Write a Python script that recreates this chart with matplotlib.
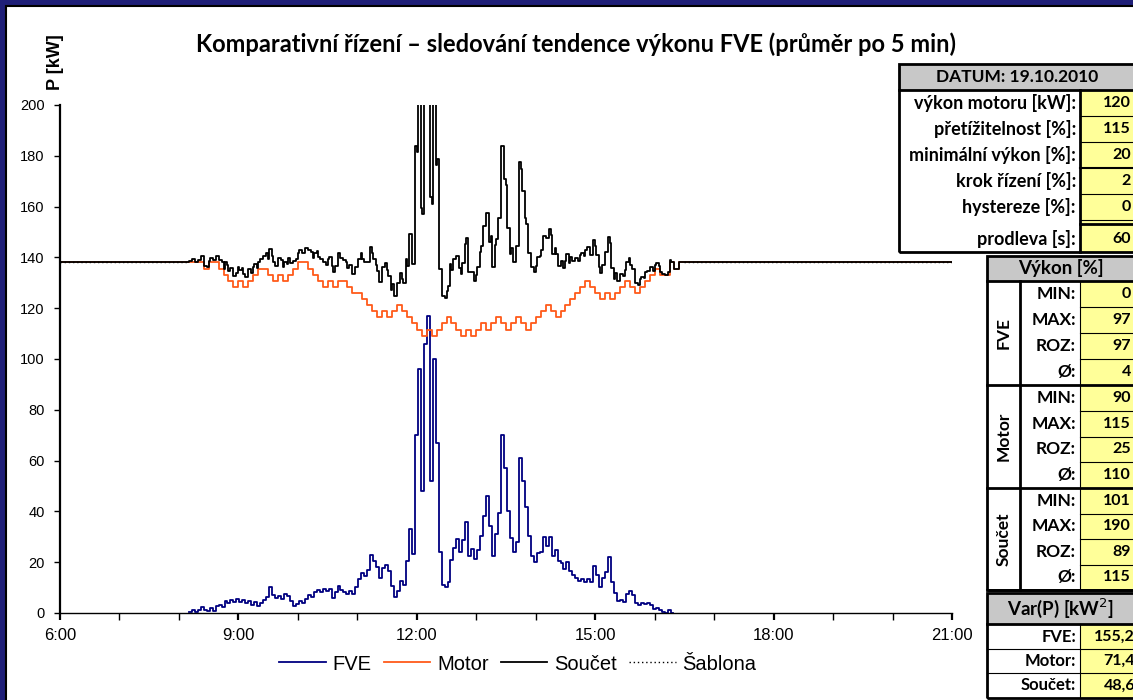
import numpy as np
import matplotlib.pyplot as plt
from matplotlib.patches import Rectangle
from matplotlib.lines import Line2D
from matplotlib.ticker import FixedLocator, FuncFormatter

# parametry regulace (tabulka vpravo)
datum = "19.10.2010"
vykon_motoru = 120      # kW
pretizitelnost = 115    # %
min_vykon = 20          # %
krok_rizeni = 2         # %
hystereze = 0           # %
prodleva = 60           # s

# FVE [kW], vzorky po 3 min od 8:10
fve_start = 490
fve_kw = [
    0.5, 1.2, 0.3, 1.0, 2.4, 1.2, 0.6, 1.8, 0.8, 2.6,
    3.2, 2.4, 4.8, 3.9, 5.2, 4.2, 5.4, 4.4, 5.2, 4.0,
    4.6, 3.2, 4.2, 2.6, 3.8, 5.0, 6.2, 10.2, 7.2, 5.8,
    6.6, 5.6, 7.4, 6.6, 4.6, 2.8, 3.6, 4.8, 3.8, 5.6,
    7.2, 6.4, 8.4, 9.2, 8.4, 9.6, 8.6, 9.4, 5.8, 8.2,
    10.8, 9.0, 8.2, 7.4, 8.8, 7.6, 10.2, 13.4, 15.8, 14.6,
    17.0, 22.8, 20.4, 18.2, 13.8, 17.6, 18.8, 16.4, 10.6, 6.2,
    8.6, 12.6, 11.2, 20.4, 33.0, 23.4, 70.0, 96.0, 48.0, 106.0,
    117.0, 52.0, 100.0, 67.0, 24.0, 11.0, 10.2, 12.4, 21.0, 25.4,
    29.0, 24.2, 28.6, 36.0, 22.6, 25.2, 21.4, 24.8, 30.4, 38.2,
    46.0, 34.4, 22.4, 31.0, 39.2, 70.0, 57.0, 40.0, 29.6, 24.2,
    28.0, 61.0, 52.0, 41.6, 30.2, 22.4, 20.2, 23.6, 24.2, 29.8,
    26.4, 30.0, 22.6, 25.0, 20.4, 19.8, 17.2, 20.0, 16.4, 15.0,
    13.8, 12.6, 13.4, 12.2, 13.2, 12.4, 18.4, 14.8, 10.2, 13.6,
    16.0, 22.0, 12.2, 8.0, 4.6, 5.2, 4.2, 7.4, 8.8, 7.2,
    4.0, 3.2, 4.0, 3.4, 3.8, 3.0, 1.6, 2.0, 1.2, 0.4,
    0.0, 1.0, 0.0,
]

# výkon motoru [% jmenovitého], průměr po 5 min od 8:10
motor_start = 490
motor_pct = [
    115, 115, 115, 113, 115, 115, 113, 111, 109, 107,
    109, 107, 109, 111, 113, 113, 111, 109, 111, 109,
    111, 113, 115, 115, 113, 111, 109, 107, 109, 107,
    109, 109, 107, 105, 105, 103, 101, 99, 97, 99,
    97, 99, 101, 99, 97, 95, 93, 91, 93, 91,
    93, 95, 97, 95, 93, 91, 93, 91, 93, 95,
    93, 95, 97, 95, 93, 95, 97, 95, 93, 95,
    97, 99, 101, 99, 97, 99, 101, 103, 105, 107,
    109, 107, 105, 103, 105, 103, 105, 107, 109, 107,
    105, 107, 109, 111, 113, 111, 111, 115, 113, 115,
]

# statistiky
tab_vykon = {
    "FVE": ["0", "97", "97", "4"],
    "Motor": ["90", "115", "25", "110"],
    "Součet": ["101", "190", "89", "115"],
}
tab_var = [("FVE:", "155,2"), ("Motor:", "71,4"), ("Součet:", "48,6")]

legend_labels = ["FVE", "Motor", "Součet", "Šablona"]
x_from, x_to = 6 * 60, 21 * 60

# --- příprava řad ---
idle_kw = vykon_motoru * pretizitelnost / 100
fve_1m = np.repeat(np.array(fve_kw), 3)
mot_1m = np.repeat(np.array(motor_pct), 5) * vykon_motoru / 100
t_1m = motor_start + np.arange(len(mot_1m))
fve_pad = np.zeros(len(mot_1m))
fve_pad[:len(fve_1m)] = fve_1m
soucet_1m = mot_1m + fve_pad

t_end = t_1m[-1] + 1
t_all = np.concatenate([[x_from], t_1m, [t_end, x_to]])
mot_all = np.concatenate([[idle_kw], mot_1m, [idle_kw, idle_kw]])
sum_all = np.concatenate([[idle_kw], soucet_1m, [idle_kw, idle_kw]])
t_fve = fve_start + 3 * np.arange(len(fve_kw))

W, H = 1133, 700
def fx(x):
    return x / W
def fy(y):
    return 1 - y / H

fig = plt.figure(figsize=(W / 100, H / 100), dpi=100)
fig.patch.set_facecolor('#1f1f78')
fig.add_artist(Rectangle((fx(6), -0.05), 1.1, fy(6) + 0.05, transform=fig.transFigure,
                         fc='white', ec='black', lw=1.5, zorder=-1))

ax = fig.add_axes([fx(60), fy(613), fx(952) - fx(60), fy(105) - fy(613)])
ax.patch.set_alpha(0)

LW = 1.3
ax.plot(np.append(t_fve, t_fve[-1] + 3), np.append(fve_kw, fve_kw[-1]),
        drawstyle='steps-post', color='#000080', lw=LW, label=legend_labels[0])
ax.plot(t_all, mot_all, drawstyle='steps-post', color='#ff5a1a', lw=LW, label=legend_labels[1])
sab_t = [x_from, fve_start, np.nan, t_end, x_to]
sab_v = [idle_kw, idle_kw, np.nan, idle_kw, idle_kw]
ax.plot(sab_t, sab_v, color='black', lw=1.0, ls=(0, (1, 2)), label=legend_labels[3])
ax.plot(t_all, sum_all, drawstyle='steps-post', color='black', lw=LW, label=legend_labels[2])

ax.set_xlim(x_from, x_to)
ax.set_ylim(0, 200)
ax.yaxis.set_major_locator(FixedLocator(np.arange(0, 201, 20)))
ax.xaxis.set_major_locator(FixedLocator(np.arange(x_from, x_to + 1, 180)))
ax.xaxis.set_minor_locator(FixedLocator(np.arange(x_from, x_to + 1, 60)))
ax.xaxis.set_major_formatter(FuncFormatter(lambda v, p: "%d:00" % (v // 60)))
for s in ['top', 'right']:
    ax.spines[s].set_visible(False)
ax.spines['left'].set_linewidth(1.6)
ax.spines['bottom'].set_linewidth(1.0)
ax.tick_params(axis='y', direction='out', length=4, width=1.0, pad=7, labelsize=10.5)
ax.tick_params(axis='x', which='major', direction='out', length=5, width=1.6, pad=6, labelsize=12)
ax.tick_params(axis='x', which='minor', direction='out', length=5, width=1.0)
for lab in ax.get_xticklabels() + ax.get_yticklabels():
    lab.set_family('Liberation Sans')

fig.text(fx(56), fy(62), "P [kW]", rotation=90, ha='center', va='center',
         fontsize=13, fontweight='bold', family='Liberation Sans')
fig.text(fx(576), fy(44), "Komparativní řízení – sledování tendence výkonu FVE (průměr po 5 min)",
         ha='center', va='center', fontsize=17, fontweight='bold', family='Lato')

h, l = ax.get_legend_handles_labels()
order = [0, 1, 3, 2]
fig.legend([h[i] for i in order], [l[i] for i in order], loc='center',
           bbox_to_anchor=(fx(518), fy(664)), ncol=4, frameon=False,
           prop={'family': 'Liberation Sans', 'size': 14.5},
           handlelength=2.3, handletextpad=0.35, columnspacing=0.6)

# --- tabulky ---
ZT = 5
def box(x0, y0, x1, y1, fc='none', ec='black', lw=0):
    fig.add_artist(Rectangle((fx(x0), fy(y1)), fx(x1) - fx(x0), fy(y0) - fy(y1),
                             transform=fig.transFigure, fc=fc, ec=ec, lw=lw, zorder=ZT))
def line(x0, y0, x1, y1, lw=0.8):
    fig.add_artist(Line2D([fx(x0), fx(x1)], [fy(y0), fy(y1)], transform=fig.transFigure,
                          color='black', lw=lw, zorder=ZT + 1))
def txt(x, y, s, ha='right', size=11.5, rot=0):
    fig.text(fx(x), fy(y), s, ha=ha, va='center', fontsize=size, fontweight='bold',
             family=['Lato', 'DejaVu Sans'], rotation=rot, zorder=ZT + 2)

GRAY, YEL = '#c8c8c8', '#ffff99'
R = 1140
LAB, VAL = 13, 11.5

# parametry
box(899, 64, R, 252, fc='white')
box(899, 64, R, 90, fc=GRAY)
box(1080, 90, R, 252, fc=YEL)
line(899, 90, R, 90, 2)
line(1080, 90, 1080, 252, 2)
for yy in [116, 142, 194]:
    line(1080, yy, R, yy, 0.8)
line(1080, 168, R, 168, 1.5)
line(1080, 220, R, 220, 0.8)
line(1080, 224, R, 224, 2)
box(899, 64, R, 252, lw=2)
txt(1017, 77, "DATUM: " + datum, ha='center', size=12.5)
par = [("výkon motoru [kW]:", vykon_motoru), ("přetížitelnost [%]:", pretizitelnost),
       ("minimální výkon [%]:", min_vykon), ("krok řízení [%]:", krok_rizeni),
       ("hystereze [%]:", hystereze)]
for i, (lab, val) in enumerate(par):
    yy = 103 + 26 * i
    txt(1076, yy, lab, size=LAB)
    txt(1131, yy, str(val), size=VAL)
txt(1076, 239, "prodleva [s]:", size=LAB)
txt(1131, 239, str(prodleva), size=VAL)

# výkon v %
box(987, 256, R, 590, fc='white')
box(987, 256, R, 281, fc=GRAY)
box(1080, 281, R, 590, fc=YEL)
line(987, 281, R, 281, 2)
line(1020, 281, 1020, 590, 2)
line(1080, 281, 1080, 590, 0.8)
txt(1061, 268, "Výkon [%]", ha='center', size=13.5)
groups = [("FVE", 281, 385), ("Motor", 385, 488), ("Součet", 488, 590)]
row_lab = ["MIN:", "MAX:", "ROZ:", "Ø:"]
for name, g0, g1 in groups:
    line(987, g1, R, g1, 2)
    rh = (g1 - g0) / 4
    for k in range(1, 4):
        line(1080, g0 + rh * k, R, g0 + rh * k, 0.8)
    txt(1004, (g0 + g1) / 2, name, ha='center', size=12.5, rot=90)
    for k in range(4):
        yc = g0 + rh * (k + 0.5)
        txt(1076, yc, row_lab[k], size=12.5)
        txt(1131, yc, tab_vykon[name][k], size=VAL)
box(987, 256, R, 590, lw=2)

# rozptyl
box(987, 593, R, 698, fc='white')
box(987, 593, R, 624, fc=GRAY)
box(1080, 624, R, 698, fc=YEL)
line(987, 624, R, 624, 2)
line(1080, 624, 1080, 698, 0.8)
line(987, 649, R, 649, 0.8)
line(987, 673, R, 673, 0.8)
txt(1061, 608, "Var(P) [kW$^2$]", ha='center', size=13.5)
for i, (lab, val) in enumerate(tab_var):
    yc = 636.5 + 24.5 * i
    txt(1076, yc, lab, size=12)
    txt(1135, yc, val, size=11.5)
box(987, 593, R, 698, lw=2)

fig.savefig('out.png', dpi=100, facecolor=fig.get_facecolor())
